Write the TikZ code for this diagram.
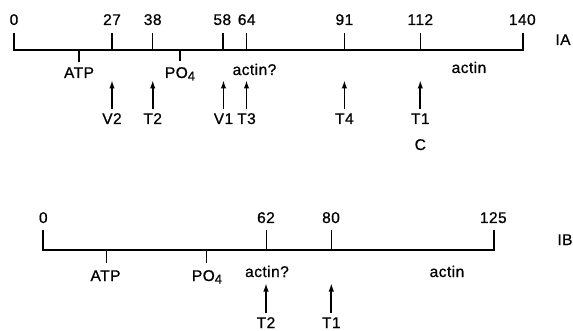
\documentclass[tikz,border=0pt]{standalone}
\usepackage{fontspec}
\setmainfont[LetterSpace=3,FakeBold=0.8]{Liberation Sans}
\usetikzlibrary{arrows.meta}
\newcommand{\POf}{PO\raisebox{-2.5pt}{\fontsize{13}{13}\selectfont 4}}
\begin{document}
\begin{tikzpicture}[x=1pt,y=-1pt,
  lbl/.style={anchor=base,inner sep=0pt,font=\fontsize{15.5}{17}\selectfont},
  axis/.style={line width=2pt,line join=miter},
  tickline/.style={line width=1.5pt},
  arr/.style={line width=1.7pt,-{Latex[length=8.5pt,width=5.5pt]},shorten <=4pt}]
\useasboundingbox (0,0) rectangle (573,331);

% ---------------- IA ----------------
\draw[axis] (14,33) -- (14,50) -- (522.7,50) -- (522.7,33);
\foreach \x in {112,152.7,222.8,246.6,344.4,420.5}{
  \draw[tickline] (\x,50) -- (\x,33);
}
\foreach \x/\t/\n in {14/0/a0,112/27/a27,152.7/38/a38,222.3/58/a58,246.7/64/a64,344.4/91/a91,420.3/112/a112,522.3/140/a140}{
  \node[lbl] (\n) at (\x,25) {\t};
}
\node[lbl] (IA) at (563,45) {IA};
\draw[tickline] (79,50) -- (79,62);
\draw[tickline] (180,50) -- (180,61);
\node[lbl] (aATP) at (79,78) {ATP};
\node[lbl] (aPO) at (180,78) {\POf};
\node[lbl] (aactq) at (254.5,75) {actin?};
\node[lbl] (aact) at (469,73) {actin};

\foreach \x/\t/\n in {112/V2/aV2,152.7/T2/aT2,223.5/V1/aV1,246.5/T3/aT3,344.4/T4/aT4,420.3/T1/aT1}{
  \node[lbl] (\n) at (\x,124) {\t};
  \coordinate (\n tip) at (\x,80);
  \draw[arr] (\n.north) -- (\n tip);
}
\node[lbl] (aC) at (420.3,150) {C};

% ---------------- IB ----------------
\draw[axis] (43.3,230) -- (43.3,250) -- (494,250) -- (494,230);
\foreach \x in {266.3,331.3}{
  \draw[tickline] (\x,250) -- (\x,230);
}
\foreach \x/\t/\n in {43.3/0/b0,266/62/b62,331/80/b80,493.3/125/b125}{
  \node[lbl] (\n) at (\x,223) {\t};
}
\node[lbl] (IB) at (565,245) {IB};
\draw[tickline] (106.7,250) -- (106.7,263);
\draw[tickline] (206.7,250) -- (206.7,263);
\node[lbl] (bATP) at (105.5,281) {ATP};
\node[lbl] (bPO) at (207,281) {\POf};
\node[lbl] (bactq) at (267,277) {actin?};
\node[lbl] (bact) at (447,277) {actin};
\foreach \x/\t/\n in {266/T2/bT2,331.3/T1/bT1}{
  \node[lbl] (\n) at (\x,328) {\t};
  \coordinate (\n tip) at (\x,283);
  \draw[arr] (\n.north) -- (\n tip);
}
\end{tikzpicture}
\end{document}
